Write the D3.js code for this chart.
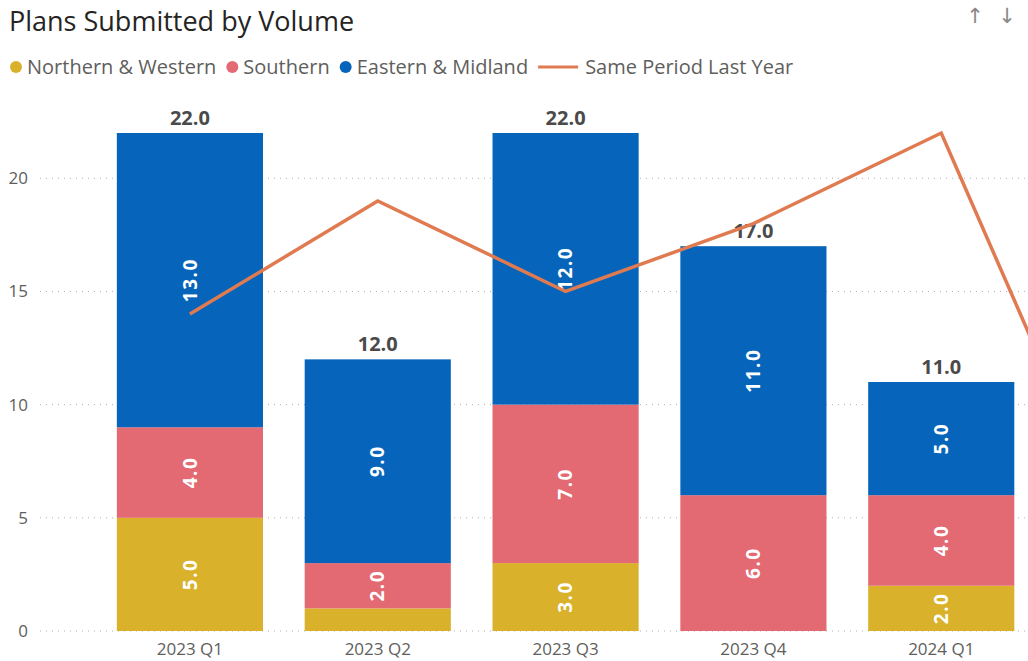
<!DOCTYPE html>
<html>
<head>
<meta charset="utf-8">
<script src="https://cdn.jsdelivr.net/npm/d3@7/dist/d3.min.js"></script>
<style>
  body { margin: 0; background: #fff; }
  svg { display: block; font-family: "Segoe UI", "Open Sans", sans-serif; }
</style>
</head>
<body>
<div id="chart"></div>
<script>
// quarters (the last one is past the right edge of the visual)
const quarters = ['2023 Q1', '2023 Q2', '2023 Q3', '2023 Q4', '2024 Q1', '2024 Q2'];
const seriesNames = ['Northern & Western', 'Southern', 'Eastern & Midland'];
const northernWestern = [5, 1, 3, 0, 2];
const southern = [4, 2, 7, 6, 4];
const easternMidland = [13, 9, 12, 11, 5];
const lastYear = [14, 19, 15, 18, 22, 3];
const yTicks = [0, 5, 10, 15, 20];

const W = 1028, H = 661;
const colors = ['#D9B12B', '#E36972', '#0665BA'];
const lineColor = '#E07A50';

const svg = d3.select('#chart').append('svg')
    .attr('width', W)
    .attr('height', H);

// title
svg.append('text')
    .attr('x', 9)
    .attr('y', 31)
    .attr('font-size', 27)
    .attr('fill', '#252423')
    .text('Plans Submitted by Volume');

// sort arrows top right
svg.append('text').attr('x', 975).attr('y', 23).attr('text-anchor', 'middle')
    .attr('font-family', 'DejaVu Sans').attr('font-size', 21)
    .attr('fill', '#8a8886').text('↑');
svg.append('text').attr('x', 1007).attr('y', 23).attr('text-anchor', 'middle')
    .attr('font-family', 'DejaVu Sans').attr('font-size', 21)
    .attr('fill', '#8a8886').text('↓');

// legend
const legend = svg.append('g').attr('transform', 'translate(0,67)');
let lx = 10;
seriesNames.forEach((name, i) => {
    legend.append('circle').attr('cx', lx + 6).attr('cy', 0).attr('r', 6).attr('fill', colors[i]);
    const t = legend.append('text')
        .attr('x', lx + 17)
        .attr('y', 7)
        .attr('font-size', 20)
        .attr('fill', '#605E5C')
        .text(name);
    lx += 17 + t.node().getComputedTextLength() + 10;
});
legend.append('line')
    .attr('x1', lx).attr('x2', lx + 40)
    .attr('y1', 0).attr('y2', 0)
    .attr('stroke', lineColor).attr('stroke-width', 3);
legend.append('text')
    .attr('x', lx + 47)
    .attr('y', 7)
    .attr('font-size', 20)
    .attr('fill', '#605E5C')
    .text('Same Period Last Year');

// scales
const x = d3.scaleBand()
    .domain(quarters)
    .range([96, 1223])
    .paddingInner(0.222)
    .paddingOuter(0.111);

const y = d3.scaleLinear()
    .domain([0, 22])
    .range([631, 133]);

// gridlines
svg.append('g')
    .selectAll('line')
    .data(yTicks)
    .join('line')
    .attr('x1', 40).attr('x2', W)
    .attr('y1', d => y(d)).attr('y2', d => y(d))
    .attr('stroke', '#b3b0ad')
    .attr('stroke-width', 1)
    .attr('stroke-dasharray', '1 5');

// y tick labels
svg.append('g')
    .selectAll('text')
    .data(yTicks)
    .join('text')
    .attr('x', 28)
    .attr('y', d => y(d) + 6)
    .attr('text-anchor', 'end')
    .attr('font-size', 17)
    .attr('fill', '#605E5C')
    .text(d => d);

// stacked bars
const rows = northernWestern.map((v, i) => ({
    q: quarters[i],
    'Northern & Western': v,
    'Southern': southern[i],
    'Eastern & Midland': easternMidland[i]
}));
const stacked = d3.stack().keys(seriesNames)(rows);

const groups = svg.append('g')
    .selectAll('g')
    .data(stacked)
    .join('g')
    .attr('fill', (d, i) => colors[i]);

groups.selectAll('rect')
    .data(d => d)
    .join('rect')
    .attr('x', d => x(d.data.q))
    .attr('y', d => y(d[1]))
    .attr('width', x.bandwidth())
    .attr('height', d => y(d[0]) - y(d[1]));

// segment labels, rotated
groups.selectAll('text')
    .data(d => d.filter(s => s[1] - s[0] > 1))
    .join('text')
    .attr('transform', d => `translate(${x(d.data.q) + x.bandwidth() / 2},${(y(d[0]) + y(d[1])) / 2}) rotate(-90)`)
    .attr('text-anchor', 'middle')
    .attr('dy', '0.35em')
    .attr('font-size', 19)
    .attr('font-weight', 'bold')
    .attr('letter-spacing', 1.5)
    .attr('fill', '#fff')
    .text(d => (d[1] - d[0]).toFixed(1));

// totals
svg.append('g')
    .selectAll('text')
    .data(rows)
    .join('text')
    .attr('x', d => x(d.q) + x.bandwidth() / 2)
    .attr('y', d => y(d['Northern & Western'] + d['Southern'] + d['Eastern & Midland']) - 8)
    .attr('text-anchor', 'middle')
    .attr('font-size', 20)
    .attr('font-weight', 'bold')
    .attr('fill', '#4a4a4a')
    .text(d => (d['Northern & Western'] + d['Southern'] + d['Eastern & Midland']).toFixed(1));

// line: same period last year
const line = d3.line()
    .x((d, i) => x(quarters[i]) + x.bandwidth() / 2)
    .y(d => y(d));

svg.append('path')
    .datum(lastYear)
    .attr('d', line)
    .attr('fill', 'none')
    .attr('stroke', lineColor)
    .attr('stroke-width', 3.5)
    .attr('stroke-linejoin', 'miter');

// x axis labels (only the quarters inside the visible area)
svg.append('g')
    .selectAll('text')
    .data(rows.map(d => d.q))
    .join('text')
    .attr('x', d => x(d) + x.bandwidth() / 2)
    .attr('y', 655)
    .attr('text-anchor', 'middle')
    .attr('font-size', 17)
    .attr('fill', '#605E5C')
    .text(d => d);
</script>
</body>
</html>
